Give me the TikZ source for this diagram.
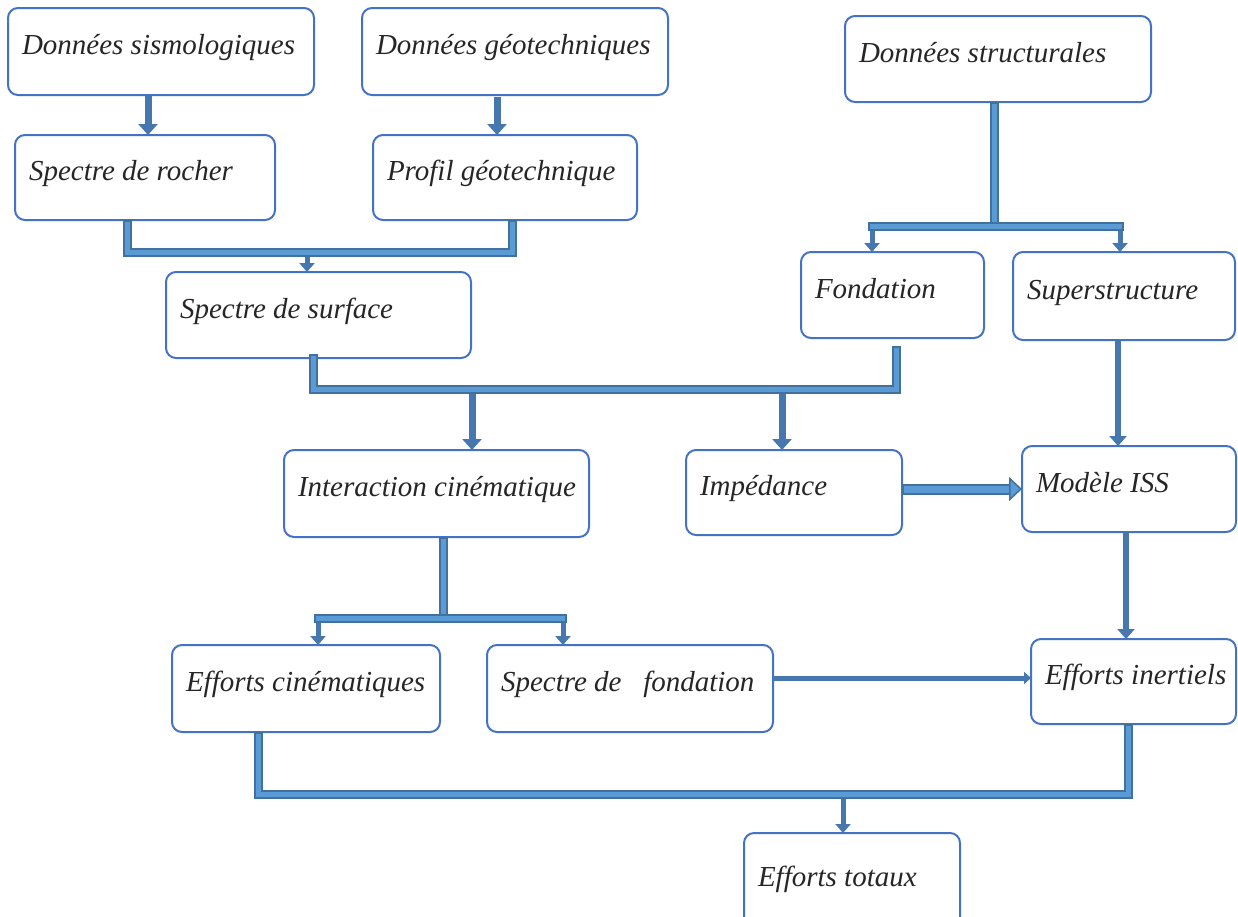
\documentclass[tikz,border=0pt]{standalone}
\usepackage{fontspec}
\setmainfont{Liberation Serif}
\usetikzlibrary{arrows.meta}
\definecolor{boxblue}{HTML}{4472C4}
\definecolor{barfill}{HTML}{5B9BD5}
\definecolor{barline}{HTML}{41719C}
\definecolor{arrcol}{HTML}{4677AE}
\definecolor{txtcol}{HTML}{262626}
\newcommand{\mkbox}[6]{\node[box, minimum width=#4pt, minimum height=#5pt] (#1) at (#2,#3) {\makebox[\dimexpr#4pt-28pt\relax][l]{#6}};}
\begin{document}
\begin{tikzpicture}[x=1pt,y=-1pt,
  box/.style={draw=boxblue, line width=2pt, rounded corners=10pt, fill=white, anchor=north west,
    outer sep=0pt, inner xsep=14pt, inner ysep=0pt, text height=22pt, text depth=16pt,
    font=\fontsize{29}{34}\selectfont\itshape, text=txtcol},
  bar/.style={draw=barline, line width=9pt, postaction={draw=barfill, line width=5pt, shorten <=2pt, shorten >=2pt}},
  arrbig/.style={draw=arrcol, line width=7pt, -{Triangle[width=19pt,length=11pt]}},
  arrmid/.style={draw=arrcol, line width=6pt, -{Triangle[width=17pt,length=10pt]}},
  arrsmall/.style={draw=arrcol, line width=5pt, -{Triangle[width=15pt,length=9pt]}},
  arrthin/.style={draw=arrcol, line width=5pt, -{Triangle[width=12pt,length=7pt]}},
  arrfat/.style={draw=barline, line width=11pt, -{Triangle[width=24pt,length=13pt,fill=barfill,line width=1.5pt]},
    postaction={draw=barfill, line width=7pt, -, shorten <=2pt, shorten >=13pt}},
]
\useasboundingbox (0,0) rectangle (1238,916);

% boxes
\mkbox{b1}{8}{8}{306}{87}{Données sismologiques}
\mkbox{b2}{362}{8}{306}{87}{Données géotechniques}
\mkbox{b3}{845}{16}{306}{86}{Données structurales}
\mkbox{b4}{15}{135}{260}{85}{Spectre de rocher}
\mkbox{b5}{373}{135}{264}{85}{Profil géotechnique}
\mkbox{b6}{166}{272}{305}{86}{Spectre de surface}
\mkbox{b7}{801}{252}{183}{86}{Fondation}
\mkbox{b8}{1013}{252}{222}{88}{Superstructure}
\mkbox{b9}{284}{450}{305}{87}{Interaction cinématique}
\mkbox{b10}{686}{450}{216}{85}{Impédance}
\mkbox{b11}{1022}{446}{214}{86}{Modèle ISS}
\mkbox{b12}{172}{645}{268}{87}{Efforts cinématiques}
\mkbox{b13}{487}{645}{286}{87}{Spectre de~~~fondation}
\mkbox{b14}{1031}{639}{205}{85}{Efforts inertiels}
\mkbox{b15}{744}{833}{216}{100}{Efforts totaux}

% junction coordinates on bars
\coordinate (j1) at (307,252);
\coordinate (j2a) at (472,389);
\coordinate (j2b) at (782,389);
\coordinate (j3) at (994,226);
\coordinate (j3a) at (872,226);
\coordinate (j3b) at (1120,226);
\coordinate (j4) at (443,618);
\coordinate (j4a) at (318,618);
\coordinate (j4b) at (563,618);
\coordinate (j5) at (843,794);
\coordinate (j6) at (0,678);

% straight arrows between boxes
\draw[arrbig] ([xshift=140pt]b1.south west) -- ([xshift=133pt]b4.north west);
\draw[arrbig] ([xshift=135pt,yshift=-2pt]b2.south west) -- ([xshift=124pt]b5.north west);
\draw[arrmid] ([xshift=105pt]b8.south west) -- ([xshift=96pt]b11.north west);
\draw[arrmid] ([xshift=104pt]b11.south west) -- ([xshift=95pt]b14.north west);
\draw[arrthin] (b13.east |- j6) -- (b14.west |- j6);
\draw[arrfat] (b10.east |- b11.west) -- (b11.west);

% arrows from bars
\draw[arrsmall] (j1) -- (j1 |- b6.north);
\draw[arrbig] (j2a) -- (j2a |- b9.north);
\draw[arrbig] (j2b) -- (j2b |- b10.north);
\draw[arrsmall] (j3a) -- (j3a |- b7.north);
\draw[arrsmall] (j3b) -- (j3b |- b8.north);
\draw[arrsmall] (j4a) -- (j4a |- b12.north);
\draw[arrsmall] (j4b) -- (j4b |- b13.north);
\draw[arrsmall] (j5) -- (j5 |- b15.north);

% bars
\draw[bar] ([xshift=112pt]b4.south west) -- ++(0,32) -| ([xshift=139pt]b5.south west);
\draw[bar] ([xshift=147pt,yshift=4pt]b6.south west) -- ++(0,35) -| ([xshift=95pt,yshift=-8pt]b7.south west);
\draw[bar] ([xshift=149pt]b3.south west) -- (j3);
\draw[bar] ([xshift=-4pt]j3a) -- ([xshift=4pt]j3b);
\draw[bar] ([xshift=159pt]b9.south west) -- (j4);
\draw[bar] ([xshift=-4pt]j4a) -- ([xshift=4pt]j4b);
\draw[bar] ([xshift=86pt]b12.south west) -- ++(0,62) -| ([xshift=97pt]b14.south west);
\end{tikzpicture}
\end{document}
